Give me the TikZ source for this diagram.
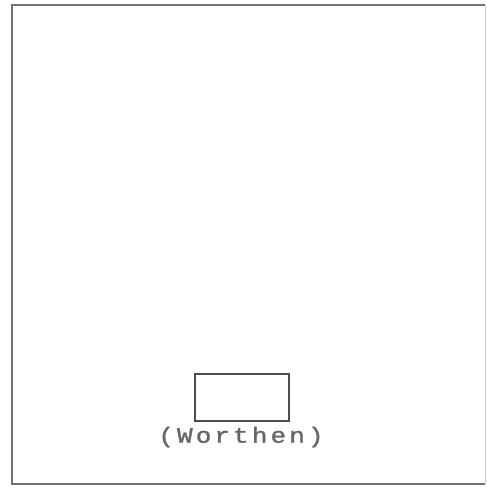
\documentclass[tikz,border=0pt]{standalone}
\usepackage{fontspec}
\newfontfamily\twfont[LetterSpace=12,FakeBold=1.2]{Liberation Mono}
\begin{document}
\begin{tikzpicture}[x=1pt,y=-1pt,
  frameline/.style={draw=black!55,line width=1.8pt},
  faintline/.style={draw=black!20,line width=1pt},
  boxline/.style={draw=black!70,line width=1.4pt},
  label/.style={font=\twfont\fontsize{22}{24}\selectfont,text=black!60,inner sep=0pt}]
\useasboundingbox (0,0) rectangle (487,491);
\coordinate (tl) at (12,5);
\coordinate (tr) at (485,5);
\coordinate (bl) at (12,484);
\coordinate (br) at (485,484);
\draw[frameline] (tr) -- (tl) -- (bl) -- (br);
\draw[faintline] (tr) -- (br);
\node[boxline,minimum width=94pt,minimum height=47pt,inner sep=0pt] (box) at (242,397.5) {};
\node[label] (name) at (241,437) {\scalebox{1.18}[1]{(Worthen)}};
\end{tikzpicture}
\end{document}
